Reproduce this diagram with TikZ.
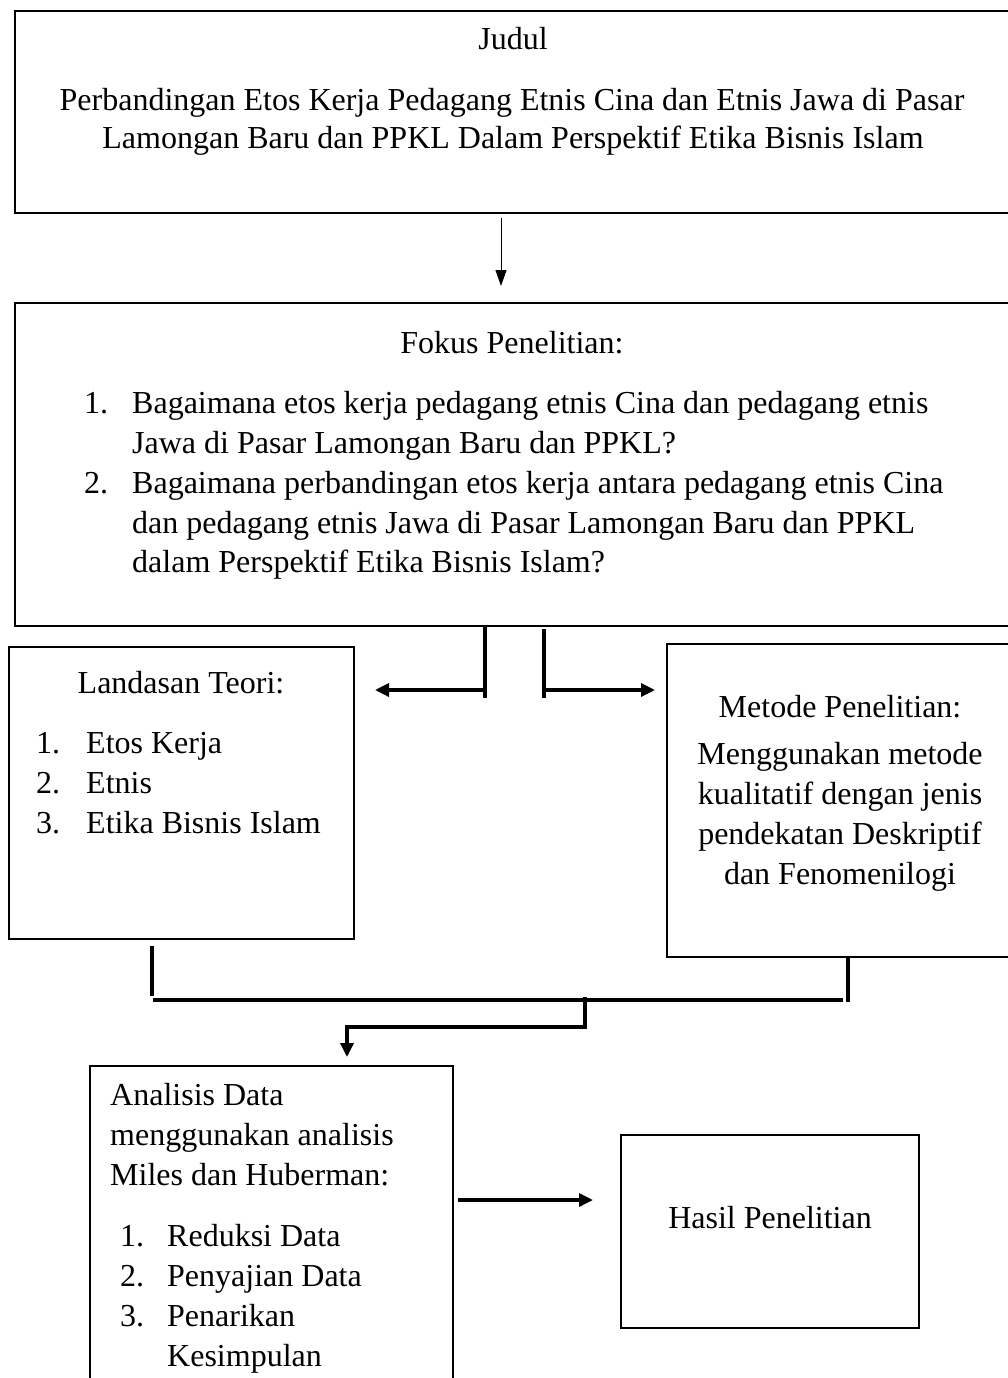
\documentclass[tikz,border=0pt]{standalone}
\usepackage{fontspec}
\setmainfont{Liberation Serif}
\usetikzlibrary{arrows.meta}
\begin{document}
\begin{tikzpicture}[x=1pt,y=-1pt,
  box/.style={draw, line width=2pt, inner sep=0pt, anchor=north west},
  txt/.style={inner sep=0pt, anchor=base, font=\fontsize{32}{40}\selectfont},
  ltxt/.style={txt, anchor=base west},
  conn/.style={line width=3.3pt},
  bigtip/.style={-{Triangle[length=14pt,width=13pt]}},
  thintip/.style={line width=1pt, -{Triangle[length=16pt,width=11pt]}}
]
\useasboundingbox (0,0) rectangle (1008,1378);
\fill[white] (0,0) rectangle (1008,1378);

% boxes
\node[box, minimum width=1010pt, minimum height=202pt] (judul) at (14,10) {};
\node[box, minimum width=1010pt, minimum height=323pt] (fokus) at (14,302) {};
\node[box, minimum width=345pt, minimum height=292pt] (teori) at (8,646) {};
\node[box, minimum width=360pt, minimum height=313pt] (metode) at (666,643) {};
\node[box, minimum width=363pt, minimum height=340pt] (analisis) at (89,1065) {};
\node[box, minimum width=298pt, minimum height=193pt] (hasil) at (620,1134) {};

% Judul texts
\node[txt] (tj) at (513,50) {Judul};
\node[txt] (tt1) at (512,111) {Perbandingan Etos Kerja Pedagang Etnis Cina dan Etnis Jawa di Pasar};
\node[txt] (tt2) at (513,148) {Lamongan Baru dan PPKL Dalam Perspektif Etika Bisnis Islam};

% Fokus texts
\node[txt] (tf) at (512,353) {Fokus Penelitian:};
\node[ltxt] (f1n) at (84,413) {1.};
\node[ltxt] (f1a) at (132,413) {Bagaimana etos kerja pedagang etnis Cina dan pedagang etnis};
\node[ltxt] (f1b) at (132,453) {Jawa di Pasar Lamongan Baru dan PPKL?};
\node[ltxt] (f2n) at (84,493) {2.};
\node[ltxt] (f2a) at (132,493) {Bagaimana perbandingan etos kerja antara pedagang etnis Cina};
\node[ltxt] (f2b) at (132,533) {dan pedagang etnis Jawa di Pasar Lamongan Baru dan PPKL};
\node[ltxt] (f2c) at (132,572) {dalam Perspektif Etika Bisnis Islam?};

% Landasan texts
\node[txt] (tl) at (181,693) {Landasan Teori:};
\node[ltxt] (l1n) at (36,753) {1.};
\node[ltxt] (l1) at (86,753) {Etos Kerja};
\node[ltxt] (l2n) at (36,793) {2.};
\node[ltxt] (l2) at (86,793) {Etnis};
\node[ltxt] (l3n) at (36,833) {3.};
\node[ltxt] (l3) at (86,833) {Etika Bisnis Islam};

% Metode texts
\node[txt] (tm) at (840,717) {Metode Penelitian:};
\node[txt] (m1) at (840,764) {Menggunakan metode};
\node[txt] (m2) at (840,804) {kualitatif dengan jenis};
\node[txt] (m3) at (840,844) {pendekatan Deskriptif};
\node[txt] (m4) at (840,884) {dan Fenomenilogi};

% Analisis texts
\node[ltxt] (a1) at (110,1105) {Analisis Data};
\node[ltxt] (a2) at (110,1145) {menggunakan analisis};
\node[ltxt] (a3) at (110,1185) {Miles dan Huberman:};
\node[ltxt] (a4n) at (120,1246) {1.};
\node[ltxt] (a4) at (167,1246) {Reduksi Data};
\node[ltxt] (a5n) at (120,1286) {2.};
\node[ltxt] (a5) at (167,1286) {Penyajian Data};
\node[ltxt] (a6n) at (120,1326) {3.};
\node[ltxt] (a6) at (167,1326) {Penarikan};
\node[ltxt] (a7) at (167,1366) {Kesimpulan};

% Hasil text
\node[txt] (th) at (770,1228) {Hasil Penelitian};

% connector coordinates
\coordinate (ta) at (501,218);
\coordinate (tb) at (501,286);
\coordinate (lv) at (485,625);
\coordinate (lvb) at (485,698);
\coordinate (lj) at (485,690);
\coordinate (lt) at (375,690);
\coordinate (rv) at (544,629);
\coordinate (rvb) at (544,698);
\coordinate (rj) at (544,690);
\coordinate (rt) at (655,690);
\coordinate (bl) at (152,946);
\coordinate (blb) at (152,996);
\coordinate (hl) at (153,1000);
\coordinate (hr) at (843,1000);
\coordinate (br) at (848,956);
\coordinate (brb) at (848,1002);
\coordinate (mj) at (585,997);
\coordinate (mk) at (585,1027);
\coordinate (at) at (347,1057);
\coordinate (ha) at (458,1200);
\coordinate (hb) at (593,1200);

% connectors
\draw[thintip] (ta) -- (tb);
\draw[conn] (lv) -- (lvb);
\draw[conn, bigtip] (lj) -- (lt);
\draw[conn] (rv) -- (rvb);
\draw[conn, bigtip] (rj) -- (rt);
\draw[conn] (bl) -- (blb);
\draw[conn] (hl) -- (hr);
\draw[conn] (br) -- (brb);
\draw[conn, bigtip] (mj) -- (mk) -| (at);
\draw[conn, bigtip] (ha) -- (hb);
\end{tikzpicture}
\end{document}
